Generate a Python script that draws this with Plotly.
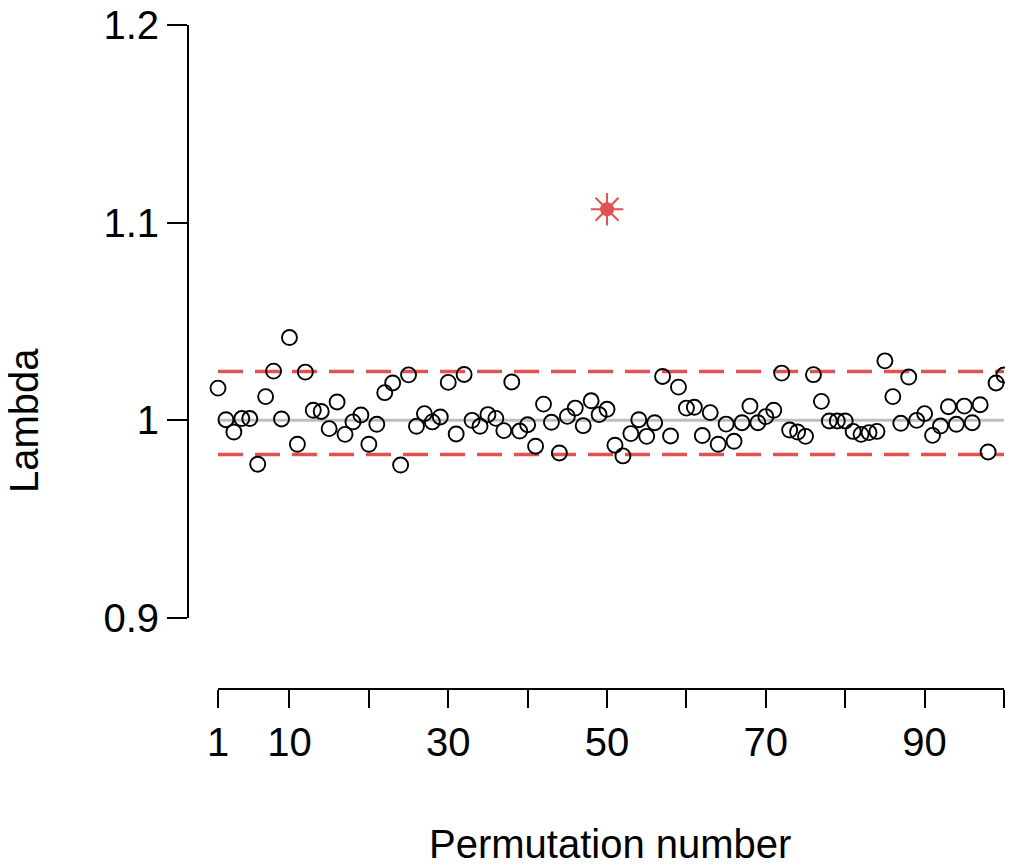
import plotly.graph_objects as go

# page is drawn inside the default 8px body margin
W, H = 1013, 867
PAD = 8
FW, FH = W - 2 * PAD, H - 2 * PAD


def px(x):
    return (x - PAD) / FW


def py(y):
    return 1 - (y - PAD) / FH


# permutation results (lambda per permutation)
perm_n = list(range(1, 101))
lam = [
    1.0163, 1.0003, 0.9941, 1.0009, 1.0009, 0.9778, 1.0120, 1.0249, 1.0007, 1.0419,
    0.9879, 1.0244, 1.0051, 1.0045, 0.9958, 1.0093, 0.9929, 0.9992, 1.0027, 0.9879,
    0.9980, 1.0140, 1.0189, 0.9774, 1.0230, 0.9970, 1.0034, 0.9992, 1.0017, 1.0192,
    0.9931, 1.0232, 1.0000, 0.9970, 1.0029, 1.0010, 0.9948, 1.0194, 0.9946, 0.9978,
    0.9869, 1.0082, 0.9990, 0.9835, 1.0020, 1.0062, 0.9973, 1.0099, 1.0029, 1.0056,
    0.9874, 0.9820, 0.9933, 1.0003, 0.9919, 0.9988, 1.0222, 0.9921, 1.0168, 1.0062,
    1.0066, 0.9923, 1.0039, 0.9879, 0.9981, 0.9894, 0.9988, 1.0072, 0.9988, 1.0019,
    1.0051, 1.0239, 0.9951, 0.9941, 0.9919, 1.0231, 1.0096, 0.9997, 0.9997, 0.9997,
    0.9944, 0.9929, 0.9938, 0.9944, 1.0301, 1.0120, 0.9985, 1.0219, 1.0000, 1.0034,
    0.9924, 0.9971, 1.0069, 0.9980, 1.0072, 0.9988, 1.0079, 0.9840, 1.0189, 1.0229,
]

observed_n = 50
observed_lam = 1.1068

ref_line = 1.0
ci_low, ci_high = 0.9827, 1.0247

x_ticks = [1, 10, 20, 30, 40, 50, 60, 70, 80, 90, 100]
x_ticktext = ["1", "10", "", "30", "", "50", "", "70", "", "90", ""]
y_ticks = [0.9, 1.0, 1.1, 1.2]
y_ticktext = ["0.9", "1", "1.1", "1.2"]

RED = "#DF5452"
GREY = "#BEBEBE"
FONT = "Liberation Sans, Arial, sans-serif"

fig = go.Figure()

fig.add_trace(go.Scatter(
    x=[perm_n[0], perm_n[-1]], y=[ref_line, ref_line],
    mode="lines", line=dict(color=GREY, width=3),
    showlegend=False, cliponaxis=False,
))
for lvl in (ci_low, ci_high):
    fig.add_trace(go.Scatter(
        x=[perm_n[0], perm_n[-1]], y=[lvl, lvl],
        mode="lines", line=dict(color=RED, width=3.5, dash="25px,12px"),
        showlegend=False, cliponaxis=False,
    ))

fig.add_trace(go.Scatter(
    x=perm_n, y=lam, mode="markers",
    marker=dict(symbol="circle-open", size=15, color="black",
                line=dict(color="black", width=1.9)),
    showlegend=False, cliponaxis=False,
))

# observed value: filled dot with asterisk rays
fig.add_trace(go.Scatter(
    x=[observed_n], y=[observed_lam], mode="markers",
    marker=dict(symbol="asterisk-open", size=27, color=RED,
                line=dict(color=RED, width=2)),
    showlegend=False, cliponaxis=False,
))
fig.add_trace(go.Scatter(
    x=[observed_n], y=[observed_lam], mode="markers",
    marker=dict(symbol="circle", size=14, color=RED, line=dict(width=0)),
    showlegend=False, cliponaxis=False,
))

fig.update_layout(
    width=FW, height=FH,
    paper_bgcolor="white", plot_bgcolor="white",
    margin=dict(l=0, r=0, t=0, b=0),
    font=dict(family=FONT, color="black", size=40),
    xaxis=dict(
        domain=[px(218), px(1004)], range=[1, 100],
        anchor="free", position=py(689),
        tickvals=x_ticks, ticktext=x_ticktext,
        ticks="outside", ticklen=18, tickwidth=2, tickcolor="black",
        showline=True, linecolor="black", linewidth=2,
        showgrid=False, zeroline=False, automargin=False,
        ticklabeloverflow="allow", tickfont=dict(size=40),
    ),
    yaxis=dict(
        domain=[py(618), py(25)], range=[0.9, 1.2],
        anchor="free", position=px(188),
        tickvals=y_ticks, ticktext=y_ticktext,
        ticks="outside", ticklen=20, tickwidth=2, tickcolor="black",
        showline=True, linecolor="black", linewidth=2,
        showgrid=False, zeroline=False, automargin=False,
        ticklabeloverflow="allow", tickfont=dict(size=40),
    ),
    annotations=[
        dict(text="Permutation number", xref="paper", yref="paper",
             x=px(610), y=py(844), xanchor="center", yanchor="middle",
             showarrow=False, font=dict(size=40)),
        dict(text="Lambda", xref="paper", yref="paper",
             x=px(24), y=py(421), xanchor="center", yanchor="middle",
             textangle=-90, showarrow=False, font=dict(size=40)),
    ],
)

fig.write_html("out.html")
